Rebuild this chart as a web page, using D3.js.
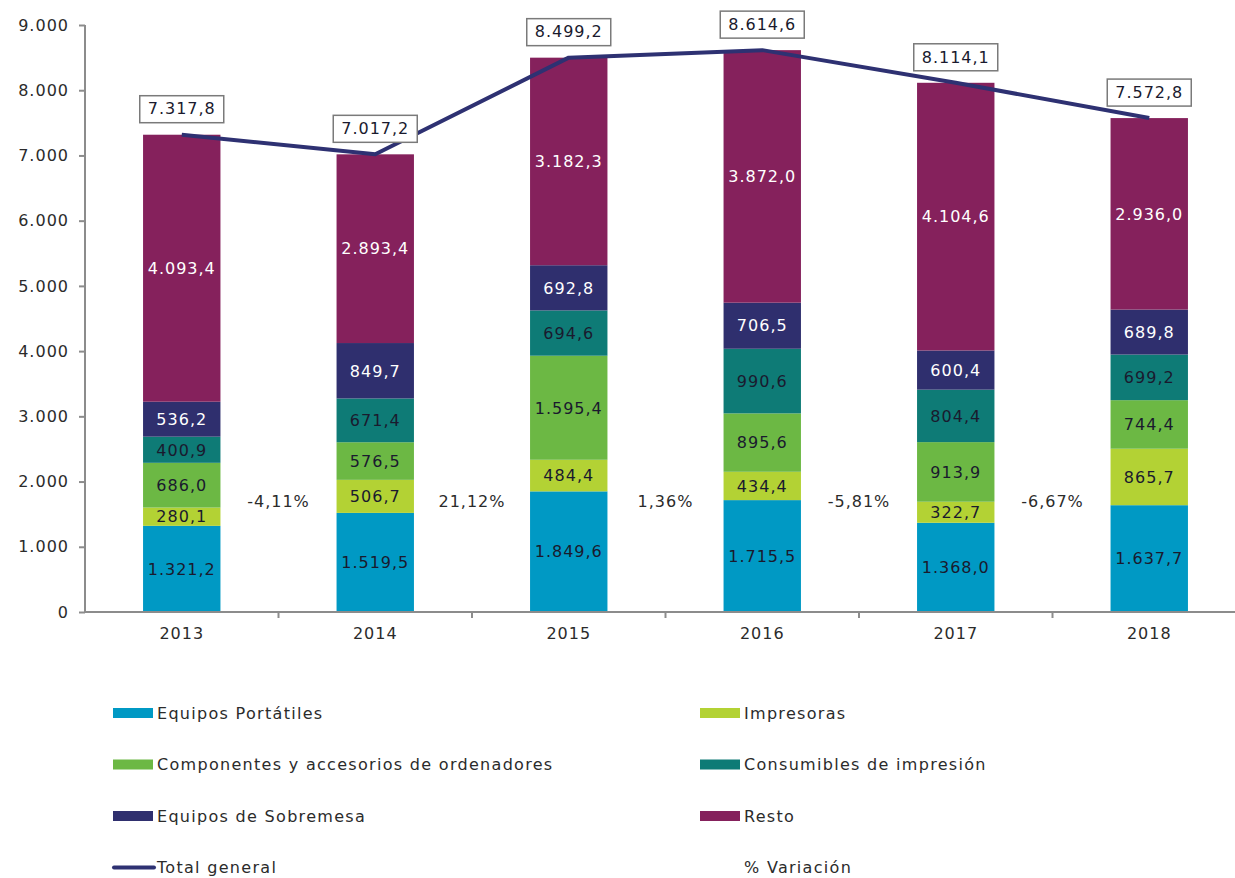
<!DOCTYPE html>
<html>
<head>
<meta charset="utf-8">
<script src="https://cdn.jsdelivr.net/npm/d3@7"></script>
<style>
  body { margin: 0; background: #fff; }
  svg text { font-family: "DejaVu Sans", Verdana, sans-serif; letter-spacing: 1px; }
  .axis path, .axis line { stroke: #8c8c8c; stroke-width: 2; }
  .axis text { fill: #2b2b2b; font-size: 16px; }
  .legend text { letter-spacing: 1.3px; }
</style>
</head>
<body>
<div id="chart"></div>
<script>
'use strict';

const years = ['2013', '2014', '2015', '2016', '2017', '2018'];
const series = ['Equipos Portátiles', 'Impresoras', 'Componentes y accesorios de ordenadores',
  'Consumibles de impresión', 'Equipos de Sobremesa', 'Resto'];
const portatiles = [1321.2, 1519.5, 1849.6, 1715.5, 1368.0, 1637.7];
const impresoras = [280.1, 506.7, 484.4, 434.4, 322.7, 865.7];
const componentes = [686.0, 576.5, 1595.4, 895.6, 913.9, 744.4];
const consumibles = [400.9, 671.4, 694.6, 990.6, 804.4, 699.2];
const sobremesa = [536.2, 849.7, 692.8, 706.5, 600.4, 689.8];
const resto = [4093.4, 2893.4, 3182.3, 3872.0, 4104.6, 2936.0];
const totals = [7317.8, 7017.2, 8499.2, 8614.6, 8114.1, 7572.8];
const variacion = ['-4,11%', '21,12%', '1,36%', '-5,81%', '-6,67%'];
const yTicks = [0, 1000, 2000, 3000, 4000, 5000, 6000, 7000, 8000, 9000];

const colors = ['#0099c4', '#b3d234', '#6cb844', '#0e7b76', '#2f2f6e', '#85215c'];
const textColors = ['#1a1a2e', '#1a1a2e', '#1a1a2e', '#1a1a2e', '#ffffff', '#ffffff'];
const values = [portatiles, impresoras, componentes, consumibles, sobremesa, resto];

const width = 1235, height = 878;
const fmt = d3.formatLocale({ decimal: ',', thousands: '.', grouping: [3], currency: ['', ''] });
const fmtTick = fmt.format(',d');
const fmtVal = fmt.format(',.1f');

const svg = d3.select('#chart').append('svg')
  .attr('width', width)
  .attr('height', height);

const xScale = d3.scaleBand()
  .domain(years)
  .range([85, 1246])
  .paddingInner(0.6)
  .paddingOuter(0.3);

const yScale = d3.scaleLinear()
  .domain([0, 9000])
  .range([612, 25]);

// stack rows
const rows = years.map((y, i) => {
  const r = { year: y };
  series.forEach((s, j) => { r[s] = values[j][i]; });
  return r;
});
const stacked = d3.stack().keys(series)(rows);

const layers = svg.append('g').selectAll('g')
  .data(stacked)
  .enter()
  .append('g')
  .attr('fill', (d, i) => colors[i]);

layers.selectAll('rect')
  .data(d => d)
  .enter()
  .append('rect')
  .attr('x', d => xScale(d.data.year))
  .attr('y', d => yScale(d[1]))
  .attr('width', xScale.bandwidth())
  .attr('height', d => yScale(d[0]) - yScale(d[1]));

// segment labels
stacked.forEach((layer, i) => {
  svg.append('g').selectAll('text')
    .data(layer)
    .enter()
    .append('text')
    .attr('x', d => xScale(d.data.year) + xScale.bandwidth() / 2)
    .attr('y', d => yScale((d[0] + d[1]) / 2))
    .attr('dy', '0.36em')
    .attr('text-anchor', 'middle')
    .attr('font-size', 16)
    .attr('fill', textColors[i])
    .text(d => fmtVal(d[1] - d[0]));
});

// axes
const yAxis = d3.axisLeft(yScale)
  .tickValues(yTicks)
  .tickSize(6)
  .tickPadding(10)
  .tickFormat(fmtTick);

svg.append('g')
  .attr('class', 'axis y-axis')
  .attr('transform', 'translate(85,0)')
  .call(yAxis)
  .call(g => g.select('.domain').attr('d', 'M0,612V25'));

const xAxis = d3.axisBottom(xScale)
  .tickSize(0)
  .tickPadding(16);

const gx = svg.append('g')
  .attr('class', 'axis x-axis')
  .attr('transform', 'translate(0,612)')
  .call(xAxis);
gx.select('.domain').attr('d', 'M85,0H1246');
gx.selectAll('.sep')
  .data(years.slice(1))
  .enter()
  .append('line')
  .attr('class', 'sep')
  .attr('x1', d => xScale(d) - xScale.step() * 0.3)
  .attr('x2', d => xScale(d) - xScale.step() * 0.3)
  .attr('y1', 0)
  .attr('y2', 6);

// total line
const cx = d => xScale(d) + xScale.bandwidth() / 2;
const line = d3.line()
  .x((d, i) => cx(years[i]))
  .y(d => yScale(d));

svg.append('path')
  .datum(totals)
  .attr('d', line)
  .attr('fill', 'none')
  .attr('stroke', '#2e3172')
  .attr('stroke-width', 4)
  .attr('stroke-linejoin', 'round');

// total labels in boxes
const boxes = svg.append('g').selectAll('g')
  .data(totals)
  .enter()
  .append('g')
  .attr('transform', (d, i) => `translate(${cx(years[i])}, ${yScale(d) - 26})`);

boxes.append('rect')
  .attr('x', -42)
  .attr('y', -13)
  .attr('width', 84)
  .attr('height', 27)
  .attr('fill', '#fff')
  .attr('stroke', '#7a7a7a')
  .attr('stroke-width', 1.5);

boxes.append('text')
  .attr('text-anchor', 'middle')
  .attr('dy', '0.36em')
  .attr('font-size', 16)
  .attr('fill', '#1a1a2e')
  .text(d => fmtVal(d));

// % variacion labels between bars
svg.append('g').selectAll('text')
  .data(variacion)
  .enter()
  .append('text')
  .attr('x', (d, i) => xScale(years[i + 1]) - xScale.step() * 0.3)
  .attr('y', yScale(1700))
  .attr('dy', '0.36em')
  .attr('text-anchor', 'middle')
  .attr('font-size', 16)
  .attr('fill', '#2b2b2b')
  .text(d => d);

// legend
const legendItems = [
  { name: series[0], color: colors[0], type: 'box', col: 0, row: 0 },
  { name: series[1], color: colors[1], type: 'box', col: 1, row: 0 },
  { name: series[2], color: colors[2], type: 'box', col: 0, row: 1 },
  { name: series[3], color: colors[3], type: 'box', col: 1, row: 1 },
  { name: series[4], color: colors[4], type: 'box', col: 0, row: 2 },
  { name: series[5], color: colors[5], type: 'box', col: 1, row: 2 },
  { name: 'Total general', color: '#2e3172', type: 'line', col: 0, row: 3 },
  { name: '% Variación', color: null, type: 'none', col: 1, row: 3 }
];

const legend = svg.append('g')
  .attr('class', 'legend')
  .selectAll('g')
  .data(legendItems)
  .enter()
  .append('g')
  .attr('transform', d => `translate(${d.col ? 700 : 113}, ${713 + d.row * 51.5})`);

legend.filter(d => d.type === 'box')
  .append('rect')
  .attr('x', 0)
  .attr('y', -5)
  .attr('width', 40)
  .attr('height', 10)
  .attr('fill', d => d.color);

legend.filter(d => d.type === 'line')
  .append('line')
  .attr('x1', 1)
  .attr('x2', 41)
  .attr('y1', 0)
  .attr('y2', 0)
  .attr('stroke', d => d.color)
  .attr('stroke-width', 4)
  .attr('stroke-linecap', 'round');

legend.append('text')
  .attr('x', 44)
  .attr('dy', '0.36em')
  .attr('font-size', 16)
  .attr('fill', '#2b2b2b')
  .text(d => d.name);
</script>
</body>
</html>
